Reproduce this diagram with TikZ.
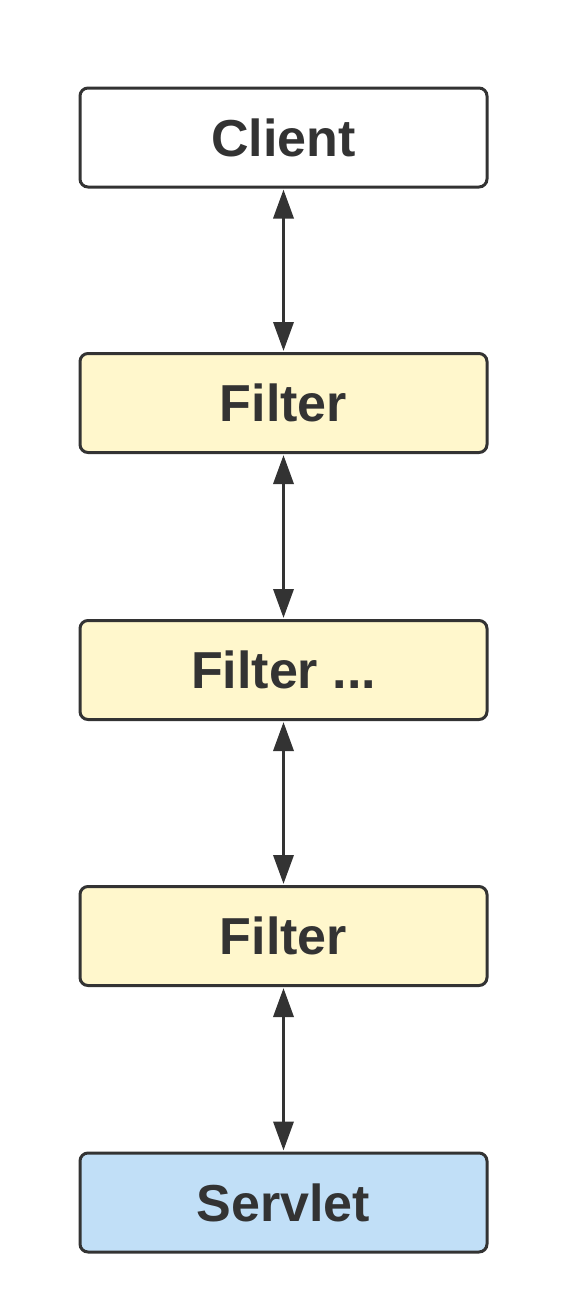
\documentclass[tikz,border=0pt]{standalone}
\usepackage{fontspec}
\setmainfont{Liberation Sans}
\usetikzlibrary{arrows.meta}
\definecolor{ink}{HTML}{333333}
\definecolor{filterfill}{HTML}{FFF7CC}
\definecolor{servletfill}{HTML}{C1DFF7}
\tikzset{
  stage/.style={draw=ink, line width=3pt, rounded corners=8pt,
    minimum width=407pt, minimum height=99pt, inner sep=0pt,
    text=ink, font=\bfseries\fontsize{52}{56}\selectfont},
  link/.style={draw=ink, line width=3.5pt,
    {Triangle[length=29pt,width=20pt]}-{Triangle[length=29pt,width=20pt]},
    shorten <=1pt, shorten >=1pt}
}
\begin{document}
\begin{tikzpicture}[x=1pt,y=-1pt]
  \useasboundingbox (0,0) rectangle (570,1296);
  \node[stage, fill=white]       (client)  at (283.5,137.5)  {Client};
  \node[stage, fill=filterfill]  (f1)      at (283.5,403)    {Filter};
  \node[stage, fill=filterfill]  (f2)      at (283.5,670)    {Filter ...};
  \node[stage, fill=filterfill]  (f3)      at (283.5,936)    {Filter};
  \node[stage, fill=servletfill] (servlet) at (283.5,1202.5) {Servlet};
  \draw[link] (client.south) -- (f1.north);
  \draw[link] (f1.south) -- (f2.north);
  \draw[link] (f2.south) -- (f3.north);
  \draw[link] (f3.south) -- (servlet.north);
\end{tikzpicture}
\end{document}
